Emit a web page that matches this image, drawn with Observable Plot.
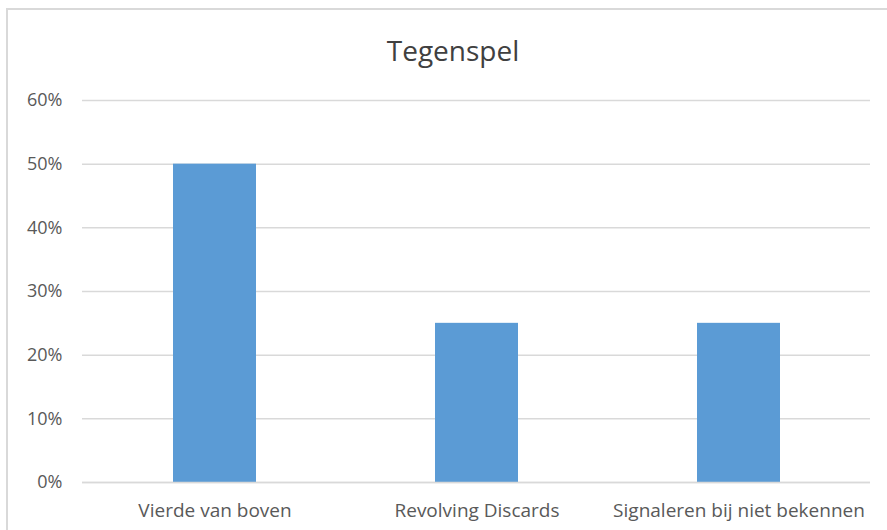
<!DOCTYPE html>
<html>
<head>
<meta charset="utf-8">
<script src="https://cdn.jsdelivr.net/npm/d3@7"></script>
<script src="https://cdn.jsdelivr.net/npm/@observablehq/plot@0.6"></script>
<style>
  body { margin: 0; background: #fff; overflow: hidden; width: 887px; height: 530px; position: relative; }
  #frame { position: absolute; left: 6px; top: 8px; width: 900px; height: 560px; border: 2px solid #d9d9d9; box-sizing: border-box; pointer-events: none; }
  #title { position: absolute; left: 0; top: 0; width: 906px; height: 80px; line-height: 100px; text-align: center; font-family: "Open Sans", sans-serif; font-size: 28px; color: #404040; }
  #chart { position: absolute; left: 0; top: 80px; }
</style>
</head>
<body>
<div id="frame"></div>
<div id="title">Tegenspel</div>
<div id="chart"></div>
<script>
const categories = ["Vierde van boven", "Revolving Discards", "Signaleren bij niet bekennen"];
const values = [0.50, 0.25, 0.25];
const yTicks = [0, 0.1, 0.2, 0.3, 0.4, 0.5, 0.6];

const data = categories.map((c, i) => ({category: c, value: values[i]}));

const chart = Plot.plot({
  width: 887,
  height: 450,
  marginLeft: 82,
  marginRight: 17,
  marginTop: 20,
  marginBottom: 48,
  style: {fontFamily: "Open Sans, sans-serif", color: "#595959", background: "transparent"},
  x: {domain: categories, paddingInner: 0.684, paddingOuter: 0.342, label: null},
  y: {domain: [0, 0.6], label: null},
  marks: [
    Plot.gridY(yTicks, {stroke: "#d9d9d9", strokeOpacity: 1, strokeWidth: 1.5}),
    Plot.axisY(yTicks, {tickSize: 0, tickPadding: 20, fontSize: 18, tickFormat: d => Math.round(d * 100) + "%", fill: "#595959", label: null}),
    Plot.axisX({tickSize: 0, tickPadding: 21, fontSize: 19, fill: "#595959", label: null}),
    Plot.barY(data, {x: "category", y: "value", fill: "#5b9bd5"}),
    Plot.ruleY([0], {stroke: "#d9d9d9", strokeWidth: 1.5})
  ]
});
document.getElementById("chart").appendChild(chart);
</script>
</body>
</html>
